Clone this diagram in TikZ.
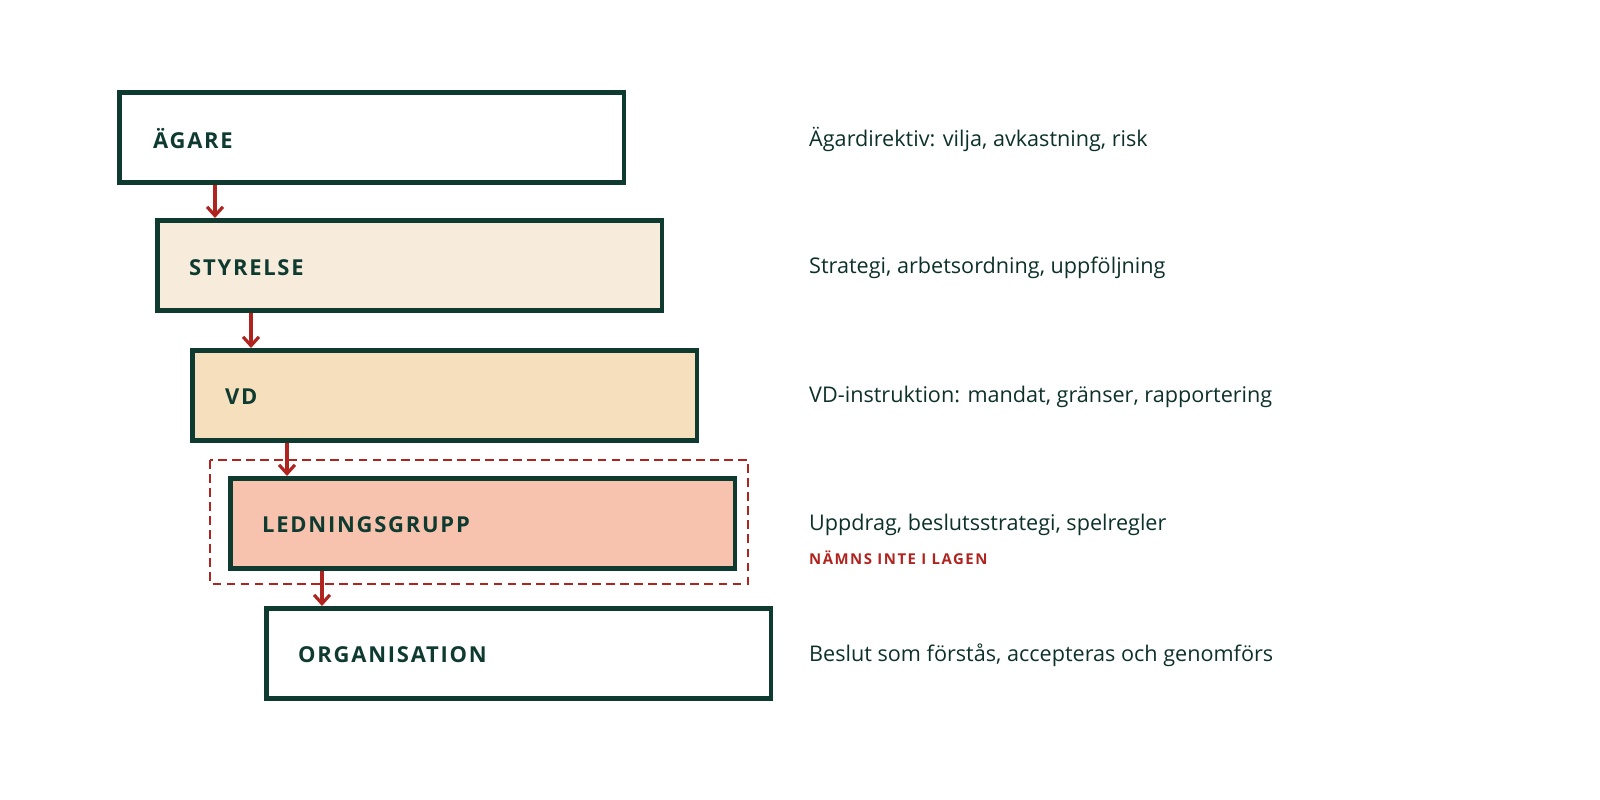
\documentclass[tikz,border=0pt]{standalone}
\usepackage{fontspec}
\setmainfont{Open Sans}
\usetikzlibrary{positioning,calc,arrows.meta}
\definecolor{ink}{HTML}{0F3A30}
\definecolor{brick}{HTML}{B02420}
\definecolor{sand}{HTML}{F7EBDC}
\definecolor{wheat}{HTML}{F6DFBC}
\definecolor{salmon}{HTML}{F7C3AE}
\tikzset{
  level/.style={draw=ink, line width=2.6pt, anchor=north west, minimum width=10.1cm,
    minimum height=1.8cm, inner sep=0pt},
  tag/.style={anchor=west, font=\bfseries\fontsize{12.5}{14}\selectfont, text=ink},
  note/.style={anchor=west, font=\fontsize{12.3}{14}\selectfont, text=ink!85!black},
  flow/.style={draw=brick, line width=1.8pt, -{Straight Barb[length=5pt,width=9pt]}},
}
\begin{document}
\begin{tikzpicture}[x=0.02cm,y=-0.02cm]
        \useasboundingbox (0,0) rectangle (1600,799);
        \node (agare) [level, fill=white] at (117,90) {};
        \node (styr) [level, fill=sand] at (155,218) {};
        \node (vd) [level, fill=wheat] at (190,348) {};
        \node (ledn) [level, fill=salmon] at (228,476) {};
        \node (org) [level, fill=white] at (264,606) {};
        \draw [brick, line width=1.3pt, dash pattern=on 5pt off 3pt] (210,460) rectangle (748,584);
        \node [tag] at (147,139) {\addfontfeature{LetterSpace=8}ÄGARE};
        \node [tag] at (183,268) {\addfontfeature{LetterSpace=8}STYRELSE};
        \node [tag] at (219,397) {\addfontfeature{LetterSpace=8}VD};
        \node [tag] at (256,525) {\addfontfeature{LetterSpace=8}LEDNINGSGRUPP};
        \node [tag] at (292,655) {\addfontfeature{LetterSpace=8}ORGANISATION};
        \node (n1) [note] at (803,139) {Ägardirektiv: vilja, avkastning, risk};
        \node (n2) [note] at (803,268) {Strategi, arbetsordning, uppföljning};
        \node (n3) [note] at (803,397) {VD-instruktion: mandat, gränser, rapportering};
        \node (n4) [note] at (803,525) {Uppdrag, beslutsstrategi, spelregler};
        \node (n4b) [anchor=west, text=brick, font=\bfseries\fontsize{8.5}{10}\selectfont] at (803,558) {\addfontfeature{LetterSpace=10}NÄMNS INTE I LAGEN};
        \node (n5) [note] at (803,655) {Beslut som förstås, accepteras och genomförs};
        \draw [flow] ($(agare.south west)+(98,0)$) -- ($(styr.north west)+(60,0)$);
        \draw [flow] ($(styr.south west)+(96,0)$) -- ($(vd.north west)+(61,0)$);
        \draw [flow] ($(vd.south west)+(97,0)$) -- ($(ledn.north west)+(59,0)$);
        \draw [flow] ($(ledn.south west)+(94,0)$) -- ($(org.north west)+(58,0)$);
\end{tikzpicture}
\end{document}
